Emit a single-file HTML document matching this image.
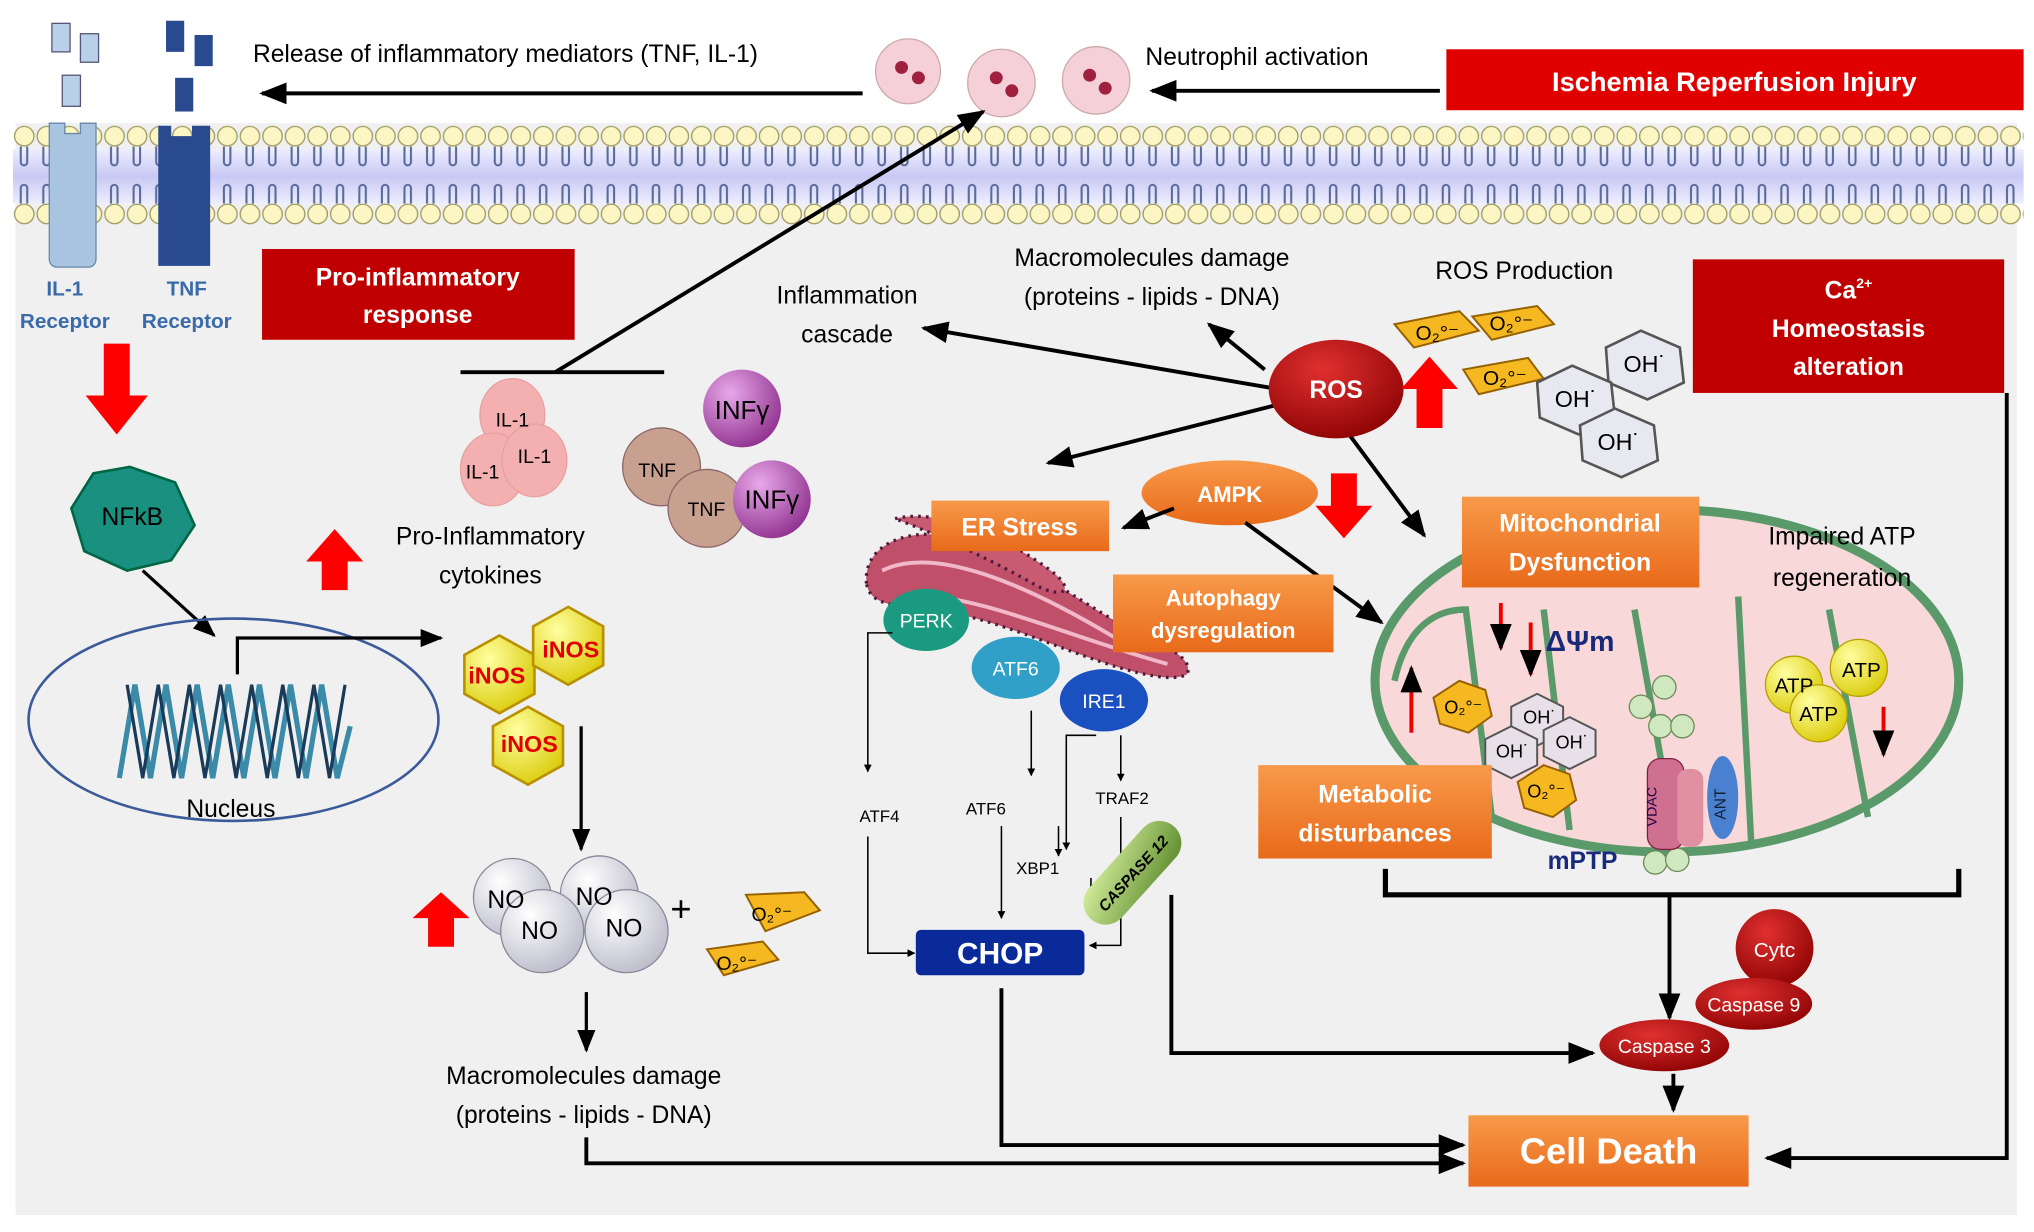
<!DOCTYPE html>
<html><head><meta charset="utf-8"><style>
html,body{margin:0;padding:0;background:#fff}
svg{display:block}
text{font-family:"Liberation Sans",sans-serif}
</style></head><body>
<svg width="2034" height="1232" viewBox="0 0 1568 950" preserveAspectRatio="none" xmlns="http://www.w3.org/2000/svg">
<defs>
<marker id="ah" viewBox="0 0 10 10" refX="9" refY="5" markerWidth="5" markerHeight="5" orient="auto"><path d="M0,0L10,5L0,10z" fill="#000"/></marker>
<marker id="as" viewBox="0 0 10 10" refX="9" refY="5" markerWidth="7" markerHeight="7" orient="auto"><path d="M0,1L10,5L0,9z" fill="#000"/></marker>
<pattern id="lipt" x="10" y="95" width="17.4" height="80" patternUnits="userSpaceOnUse">
<circle cx="8.7" cy="10" r="7.5" fill="#fbf6c4" stroke="#a09a60" stroke-width="1"/>
<circle cx="8.7" cy="70" r="7.5" fill="#fbf6c4" stroke="#a09a60" stroke-width="1"/>
<path d="M6,18v12a2.5,2.5 0 0 0 5,0v-12M6,62v-12a2.5,2.5 0 0 1 5,0v12" fill="none" stroke="#5a6a9a" stroke-width="1.6"/>
</pattern>
<linearGradient id="band" x1="0" y1="0" x2="0" y2="1"><stop offset="0" stop-color="#eef" /><stop offset="0.5" stop-color="#c8c8f4"/><stop offset="1" stop-color="#eef"/></linearGradient>
<radialGradient id="rg1" cx="0.35" cy="0.3" r="0.8"><stop offset="0" stop-color="#fff"/><stop offset="1" stop-color="#b8b8c8"/></radialGradient>
<radialGradient id="pur" cx="0.35" cy="0.3" r="0.8"><stop offset="0" stop-color="#e8a8e8"/><stop offset="1" stop-color="#8a2a8a"/></radialGradient>
<radialGradient id="yel" cx="0.35" cy="0.3" r="0.8"><stop offset="0" stop-color="#ffffa0"/><stop offset="1" stop-color="#d8c800"/></radialGradient>
<radialGradient id="red" cx="0.4" cy="0.3" r="0.8"><stop offset="0" stop-color="#e03030"/><stop offset="1" stop-color="#800"/></radialGradient>
<linearGradient id="org" x1="0" y1="0" x2="0" y2="1"><stop offset="0" stop-color="#f79a4a"/><stop offset="1" stop-color="#e86a1a"/></linearGradient>
<linearGradient id="grn" x1="0" y1="0" x2="1" y2="1"><stop offset="0" stop-color="#d8f0a0"/><stop offset="1" stop-color="#5a8a2a"/></linearGradient>
</defs>
<rect x="12" y="95" width="1543" height="842" fill="#f0f0f0"/>
<rect x="10" y="115" width="1550" height="42" fill="url(#band)"/>
<rect x="10" y="95" width="1550" height="80" fill="url(#lipt)"/>
<rect x="40" y="18" width="14" height="22" fill="#b8d0e8" stroke="#557"/>
<rect x="62" y="26" width="14" height="22" fill="#b8d0e8" stroke="#557"/>
<rect x="48" y="58" width="14" height="24" fill="#b8d0e8" stroke="#557"/>
<path d="M38,95h12v8h12v-8h12v105a6,6 0 0 1 -6,6h-24a6,6 0 0 1 -6,-6z" fill="#a8c4e0" stroke="#6888a8"/>
<rect x="128" y="16" width="14" height="24" fill="#2a4a90"/>
<rect x="150" y="27" width="14" height="24" fill="#2a4a90"/>
<rect x="135" y="60" width="14" height="26" fill="#2a4a90"/>
<path d="M122,97h10v8h16v-8h14v108h-40z" fill="#2a4a90"/>
<text x="50" y="228" font-size="16" fill="#3a6aa8" text-anchor="middle" font-weight="bold">IL-1</text>
<text x="50" y="253" font-size="16" fill="#3a6aa8" text-anchor="middle" font-weight="bold">Receptor</text>
<text x="144" y="228" font-size="16" fill="#3a6aa8" text-anchor="middle" font-weight="bold">TNF</text>
<text x="144" y="253" font-size="16" fill="#3a6aa8" text-anchor="middle" font-weight="bold">Receptor</text>
<text x="195" y="48" font-size="19">Release of inflammatory mediators (TNF, IL-1)</text>
<line x1="665" y1="72" x2="202" y2="72" stroke="#000" stroke-width="3" marker-end="url(#as)"/>
<g fill="#f6d0d8" stroke="#caa">
<circle cx="700" cy="55" r="25"/><circle cx="772" cy="64" r="26"/><circle cx="845" cy="62" r="26"/></g>
<g fill="#a02040"><circle cx="695" cy="52" r="5"/><circle cx="708" cy="60" r="5"/><circle cx="768" cy="60" r="5"/><circle cx="780" cy="70" r="5"/><circle cx="840" cy="58" r="5"/><circle cx="852" cy="68" r="5"/></g>
<text x="883" y="50" font-size="19">Neutrophil activation</text>
<line x1="1110" y1="70" x2="888" y2="70" stroke="#000" stroke-width="3" marker-end="url(#as)"/>
<rect x="1115" y="38" width="445" height="47" fill="#e00000"/>
<text x="1337" y="70" font-size="21" fill="#fff" font-weight="bold" text-anchor="middle">Ischemia Reperfusion Injury</text>
<rect x="202" y="192" width="241" height="70" fill="#c00000"/>
<text x="322" y="220" font-size="19" fill="#fff" font-weight="bold" text-anchor="middle">Pro-inflammatory</text>
<text x="322" y="249" font-size="19" fill="#fff" font-weight="bold" text-anchor="middle">response</text>
<path d="M80,265h20v40h14l-24,30l-24,-30h14z" fill="#f00"/>
<polygon points="100,360 135,372 150,405 132,432 98,440 65,425 55,392 72,365" fill="#1a9080" stroke="#064" stroke-width="2"/>
<text x="102" y="405" font-size="19" fill="#000" text-anchor="middle">NFkB</text>
<line x1="110" y1="440" x2="165" y2="490" stroke="#000" stroke-width="2.5" marker-end="url(#as)"/>
<ellipse cx="180" cy="555" rx="158" ry="78" fill="none" stroke="#3a5a9a" stroke-width="2"/>
<polyline points="92,600 104,528 116,600 128,528 140,600 152,528 164,600 176,528 188,600 200,528 212,600 224,528 236,600 248,528 260,600 270,560" fill="none" stroke="#3a8aa8" stroke-width="4"/>
<polyline points="98,528 110,600 122,528 134,600 146,528 158,600 170,528 182,600 194,528 206,600 218,528 230,600 242,528 254,600 266,528" fill="none" stroke="#1a3a5a" stroke-width="2.5"/>
<text x="178" y="630" font-size="19" text-anchor="middle">Nucleus</text>
<polyline points="183,520 183,492 340,492" fill="none" stroke="#000" stroke-width="2.5" marker-end="url(#as)"/>
<g fill="url(#yel)" stroke="#b89000" stroke-width="2">
<polygon points="385,490 412,505 412,535 385,550 358,535 358,505"/>
<polygon points="438,468 465,483 465,513 438,528 411,513 411,483"/>
<polygon points="407,545 434,560 434,590 407,605 380,590 380,560"/></g>
<g font-size="18" fill="#e00000" font-weight="bold" text-anchor="middle"><text x="383" y="527">iNOS</text><text x="440" y="507">iNOS</text><text x="408" y="580">iNOS</text></g>
<line x1="448" y1="560" x2="448" y2="655" stroke="#000" stroke-width="2.5" marker-end="url(#as)"/>
<g fill="url(#rg1)" stroke="#889"><circle cx="395" cy="692" r="30"/><circle cx="462" cy="690" r="30"/><circle cx="418" cy="718" r="32"/><circle cx="483" cy="718" r="32"/></g>
<g font-size="19" text-anchor="middle"><text x="390" y="700">NO</text><text x="458" y="698">NO</text><text x="416" y="724">NO</text><text x="481" y="722">NO</text></g>
<text x="525" y="710" font-size="28" text-anchor="middle">+</text>
<g fill="#f5b820" stroke="#946000" stroke-width="1.5"><polygon points="575,690 620,688 632,702 590,718"/><polygon points="545,732 588,726 600,740 558,752"/></g>
<text x="595" y="710" font-size="15" text-anchor="middle">O₂°⁻</text><text x="568" y="748" font-size="15" text-anchor="middle">O₂°⁻</text>
<path d="M330,730h20v-22h12l-22,-20l-22,20h12z" fill="#f00"/>
<line x1="452" y1="765" x2="452" y2="810" stroke="#000" stroke-width="2.5" marker-end="url(#as)"/>
<text x="450" y="836" font-size="19" text-anchor="middle">Macromolecules damage</text>
<text x="450" y="866" font-size="19" text-anchor="middle">(proteins - lipids - DNA)</text>
<polyline points="452,877 452,897 1128,897" fill="none" stroke="#000" stroke-width="3" marker-end="url(#as)"/>
<line x1="355" y1="287" x2="512" y2="287" stroke="#000" stroke-width="3"/>
<line x1="428" y1="287" x2="758" y2="86" stroke="#000" stroke-width="3" marker-end="url(#as)"/>
<g fill="#f4b0b0" stroke="#e8a0a0"><ellipse cx="395" cy="320" rx="25" ry="28"/><ellipse cx="380" cy="362" rx="25" ry="28"/><ellipse cx="412" cy="355" rx="25" ry="28"/></g>
<g font-size="15" text-anchor="middle"><text x="395" y="329" font-family="Liberation Serif">IL-1</text><text x="372" y="369" font-family="Liberation Serif">IL-1</text><text x="412" y="357" font-family="Liberation Serif">IL-1</text></g>
<g fill="#c8a090" stroke="#866"><circle cx="510" cy="360" r="30"/><circle cx="545" cy="392" r="30"/></g>
<g fill="url(#pur)"><circle cx="572" cy="315" r="30"/><circle cx="595" cy="385" r="30"/></g>
<g font-size="15"><text x="492" y="368" font-family="Liberation Serif">TNF</text><text x="530" y="398" font-family="Liberation Serif">TNF</text></g>
<text x="572" y="323" font-size="20" text-anchor="middle">INFγ</text><text x="595" y="392" font-size="20" text-anchor="middle">INFγ</text>
<path d="M248,455h20v-22h12l-22,-25l-22,25h12z" fill="#f00"/>
<text x="378" y="420" font-size="19" text-anchor="middle">Pro-Inflammatory</text>
<text x="378" y="450" font-size="19" text-anchor="middle">cytokines</text>
<text x="653" y="234" font-size="19" text-anchor="middle">Inflammation</text>
<text x="653" y="264" font-size="19" text-anchor="middle">cascade</text>
<text x="888" y="205" font-size="19" text-anchor="middle">Macromolecules damage</text>
<text x="888" y="235" font-size="19" text-anchor="middle">(proteins - lipids - DNA)</text>
<text x="1175" y="215" font-size="19" text-anchor="middle">ROS Production</text>
<g stroke="#000" stroke-width="3" marker-end="url(#as)"><line x1="985" y1="300" x2="712" y2="253"/><line x1="975" y1="285" x2="932" y2="250"/><line x1="985" y1="312" x2="808" y2="357"/><line x1="1040" y1="335" x2="1098" y2="413"/></g>
<ellipse cx="1030" cy="300" rx="52" ry="38" fill="url(#red)"/>
<text x="1030" y="307" font-size="19" fill="#fff" font-weight="bold" text-anchor="middle">ROS</text>
<path d="M1092,330h20v-30h12l-22,-25l-22,25h12z" fill="#f00"/>
<g fill="#f5b820" stroke="#946000" stroke-width="1.5"><polygon points="1075,250 1125,240 1140,255 1090,268"/><polygon points="1135,244 1185,236 1198,250 1150,262"/><polygon points="1128,285 1178,276 1190,292 1140,304"/></g>
<g font-size="16" text-anchor="middle"><text x="1108" y="262">O₂°⁻</text><text x="1165" y="255">O₂°⁻</text><text x="1160" y="297">O₂°⁻</text></g>
<g fill="#e8e8f0" stroke="#555" stroke-width="2"><polygon points="1265,255 1295,268 1298,295 1270,308 1240,295 1238,268"/><polygon points="1212,282 1242,295 1245,322 1217,335 1187,322 1185,295"/><polygon points="1245,315 1275,328 1278,355 1250,368 1220,355 1218,328"/></g>
<g font-size="18" text-anchor="middle"><text x="1268" y="287">OH˙</text><text x="1215" y="314">OH˙</text><text x="1248" y="347">OH˙</text></g>
<rect x="1305" y="200" width="240" height="103" fill="#c00000"/>
<text x="1425" y="230" font-size="19" fill="#fff" font-weight="bold" text-anchor="middle">Ca<tspan font-size="11" dy="-8">2+</tspan></text>
<text x="1425" y="260" font-size="19" fill="#fff" font-weight="bold" text-anchor="middle">Homeostasis</text>
<text x="1425" y="289" font-size="19" fill="#fff" font-weight="bold" text-anchor="middle">alteration</text>
<polyline points="1547,303 1547,893 1362,893" fill="none" stroke="#000" stroke-width="3" marker-end="url(#as)"/>
<ellipse cx="948" cy="380" rx="68" ry="25" fill="url(#org)"/>
<text x="948" y="387" font-size="17" fill="#fff" font-weight="bold" text-anchor="middle">AMPK</text>
<path d="M1026,365h20v25h12l-22,25l-22,-25h12z" fill="#f00"/>
<line x1="905" y1="392" x2="866" y2="407" stroke="#000" stroke-width="3" marker-end="url(#as)"/>
<line x1="960" y1="403" x2="1065" y2="480" stroke="#000" stroke-width="3" marker-end="url(#as)"/>
<!-- ER -->
<g stroke="#4a1a3a" stroke-width="2.5" stroke-dasharray="2 4">
<path d="M668,450 C665,420 700,405 740,415 C790,430 840,470 880,490 C905,500 920,510 915,520 C900,528 860,515 820,500 C780,485 740,470 700,468 C680,466 670,462 668,450z" fill="#c0506a"/>
<path d="M690,400 C720,392 770,410 810,440 C830,455 820,462 800,452 C770,435 730,415 690,400z" fill="#c85a72"/>
</g>
<g fill="none" stroke="#f0b8c8" stroke-width="3"><path d="M680,440 C720,420 790,450 860,492"/><path d="M700,458 C760,460 820,490 900,512"/></g>
<rect x="718" y="386" width="137" height="39" fill="url(#org)"/>
<text x="786" y="413" font-size="19" fill="#fff" font-weight="bold" text-anchor="middle">ER Stress</text>
<rect x="858" y="443" width="170" height="60" fill="url(#org)"/>
<text x="943" y="467" font-size="17" fill="#fff" font-weight="bold" text-anchor="middle">Autophagy</text>
<text x="943" y="492" font-size="17" fill="#fff" font-weight="bold" text-anchor="middle">dysregulation</text>
<ellipse cx="714" cy="478" rx="33" ry="24" fill="#1a9a80"/><text x="714" y="484" font-size="15" fill="#fff" text-anchor="middle">PERK</text>
<ellipse cx="783" cy="515" rx="34" ry="24" fill="#30a0c8"/><text x="783" y="521" font-size="15" fill="#fff" text-anchor="middle">ATF6</text>
<ellipse cx="851" cy="540" rx="34" ry="24" fill="#1a50c0"/><text x="851" y="546" font-size="15" fill="#fff" text-anchor="middle">IRE1</text>
<g stroke="#000" stroke-width="1.2" fill="none" marker-end="url(#ah)">
<polyline points="688,488 669,488 669,595"/><polyline points="669,645 669,735 705,735"/>
<line x1="795" y1="548" x2="795" y2="598"/><line x1="772" y1="637" x2="772" y2="708"/><line x1="816" y1="637" x2="816" y2="660"/><line x1="841" y1="677" x2="841" y2="708"/>
<polyline points="845,567 822,567 822,655"/><line x1="864" y1="567" x2="864" y2="602"/><polyline points="864,630 864,729 840,729"/></g>
<g font-size="13" text-anchor="middle"><text x="678" y="634">ATF4</text><text x="760" y="628">ATF6</text><text x="800" y="674">XBP1</text><text x="865" y="620">TRAF2</text></g>
<g transform="translate(873,673) rotate(-48)"><rect x="-48" y="-17" width="96" height="34" rx="17" fill="url(#grn)"/><text x="0" y="5" font-size="12" font-weight="bold" font-style="italic" text-anchor="middle">CASPASE 12</text></g>
<rect x="706" y="717" width="130" height="35" rx="4" fill="#0a2a9a"/>
<text x="771" y="743" font-size="23" fill="#fff" font-weight="bold" text-anchor="middle">CHOP</text>
<polyline points="772,762 772,883 1128,883" fill="none" stroke="#000" stroke-width="3" marker-end="url(#as)"/>
<polyline points="903,690 903,812 1228,812" fill="none" stroke="#000" stroke-width="3" marker-end="url(#as)"/>
<ellipse cx="1285" cy="525" rx="225" ry="132" fill="#f8d8d8" stroke="#5a9a6a" stroke-width="7"/>
<path d="M1075,525 C1085,480 1110,470 1130,470 L1150,630 M1190,470 L1210,640 M1260,470 L1290,640 M1340,460 L1350,650 M1410,470 L1440,630" fill="none" stroke="#5a9a6a" stroke-width="5"/>
<rect x="1127" y="383" width="183" height="70" fill="url(#org)"/>
<text x="1218" y="410" font-size="19" fill="#fff" font-weight="bold" text-anchor="middle">Mitochondrial</text>
<text x="1218" y="440" font-size="19" fill="#fff" font-weight="bold" text-anchor="middle">Dysfunction</text>
<text x="1420" y="420" font-size="19" text-anchor="middle">Impaired ATP</text>
<text x="1420" y="452" font-size="19" text-anchor="middle">regeneration</text>
<text x="1218" y="502" font-size="22" fill="#1a2a7a" font-weight="bold" text-anchor="middle">ΔΨm</text>
<g stroke="#e00" stroke-width="3" marker-end="url(#as)"><line x1="1088" y1="565" x2="1088" y2="515"/><line x1="1157" y1="465" x2="1157" y2="500"/><line x1="1180" y1="480" x2="1180" y2="520"/><line x1="1452" y1="545" x2="1452" y2="582"/></g>
<g fill="#f5b820" stroke="#946000" stroke-width="1.5"><polygon points="1125,525 1145,532 1150,552 1132,565 1110,558 1105,538"/><polygon points="1190,590 1210,597 1215,617 1197,630 1175,623 1170,603"/></g>
<g fill="#e8e0e8" stroke="#555" stroke-width="1.5"><polygon points="1185,535 1205,545 1205,565 1185,575 1165,565 1165,545"/><polygon points="1165,560 1185,570 1185,590 1165,600 1145,590 1145,570"/><polygon points="1210,553 1230,563 1230,583 1210,593 1190,583 1190,563"/></g>
<g font-size="14" text-anchor="middle"><text x="1128" y="550">O₂°⁻</text><text x="1192" y="615">O₂°⁻</text><text x="1187" y="558">OH˙</text><text x="1166" y="584">OH˙</text><text x="1212" y="577">OH˙</text></g>
<g fill="#d0e8c0" stroke="#6a8a5a"><circle cx="1265" cy="545" r="9"/><circle cx="1283" cy="530" r="9"/><circle cx="1280" cy="560" r="9"/><circle cx="1297" cy="560" r="9"/><circle cx="1276" cy="665" r="9"/><circle cx="1293" cy="663" r="9"/></g>
<rect x="1270" y="585" width="28" height="70" rx="10" fill="#d07090" stroke="#802040"/>
<rect x="1293" y="593" width="20" height="60" rx="8" fill="#e090a0"/>
<ellipse cx="1328" cy="615" rx="12" ry="32" fill="#4a80d0"/>
<text x="1277" y="622" font-size="11" fill="#204" text-anchor="middle" transform="rotate(-90 1277 622)">VDAC</text>
<text x="1330" y="620" font-size="12" fill="#123" text-anchor="middle" transform="rotate(-90 1330 620)">ANT</text>
<g fill="url(#yel)" stroke="#b8a000"><circle cx="1383" cy="528" r="22"/><circle cx="1433" cy="515" r="22"/><circle cx="1402" cy="550" r="22"/></g>
<g font-size="16" text-anchor="middle"><text x="1383" y="534">ATP</text><text x="1435" y="522">ATP</text><text x="1402" y="556">ATP</text></g>
<rect x="970" y="590" width="180" height="72" fill="url(#org)"/>
<text x="1060" y="619" font-size="19" fill="#fff" font-weight="bold" text-anchor="middle">Metabolic</text>
<text x="1060" y="649" font-size="19" fill="#fff" font-weight="bold" text-anchor="middle">disturbances</text>
<text x="1220" y="670" font-size="19" fill="#1a2a7a" font-weight="bold" text-anchor="middle">mPTP</text>
<polyline points="1068,670 1068,690 1510,690 1510,670" fill="none" stroke="#000" stroke-width="4"/>
<line x1="1287" y1="690" x2="1287" y2="785" stroke="#000" stroke-width="3" marker-end="url(#as)"/>
<ellipse cx="1368" cy="731" rx="30" ry="30" fill="url(#red)"/>
<text x="1368" y="738" font-size="16" fill="#fff" text-anchor="middle">Cytc</text>
<ellipse cx="1352" cy="774" rx="45" ry="20" fill="url(#red)"/>
<text x="1352" y="780" font-size="15" fill="#fff" text-anchor="middle">Caspase 9</text>
<ellipse cx="1283" cy="806" rx="50" ry="20" fill="url(#red)"/>
<text x="1283" y="812" font-size="15" fill="#fff" text-anchor="middle">Caspase 3</text>
<line x1="1290" y1="828" x2="1290" y2="856" stroke="#000" stroke-width="3" marker-end="url(#as)"/>
<rect x="1132" y="860" width="216" height="55" fill="url(#org)"/>
<text x="1240" y="897" font-size="28" fill="#fff" font-weight="bold" text-anchor="middle">Cell Death</text>
</svg>
</body></html>
